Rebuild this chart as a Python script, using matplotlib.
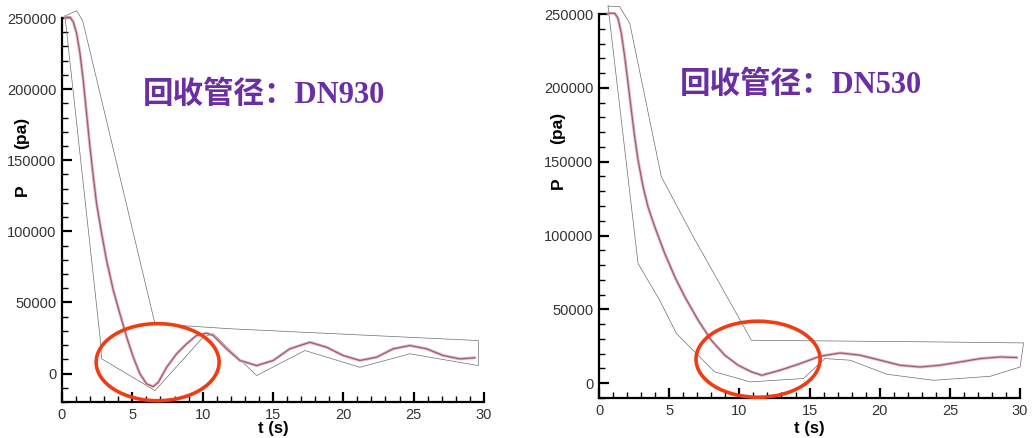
import matplotlib
matplotlib.use("Agg")
import matplotlib.pyplot as plt
from matplotlib.patches import Ellipse
from matplotlib.ticker import MultipleLocator

# DN930 main pressure curve
t_930 = [0.21, 0.57, 0.80, 1.04, 1.28, 1.51, 1.75, 1.99, 2.23, 2.46, 2.82, 3.17, 3.65, 4.12,
         4.6, 5.07, 5.54, 6.02, 6.49, 6.85, 7.44, 8.15, 8.86, 9.57, 10.28, 10.75, 11.7,
         12.65, 13.84, 15.02, 16.2, 17.63, 18.81, 19.99, 21.18, 22.37, 23.55, 24.73, 25.92,
         27.1, 28.29, 29.35]
p_930 = [250500, 250500, 247400, 239200, 225100, 206300, 182900, 159400, 138200, 119500,
         98400, 79600, 58500, 42000, 25600, 11500, -200, -7300, -9200, -6100, 4400, 13900,
         20900, 26800, 28400, 26800, 17400, 9200, 5600, 9200, 17400, 22000, 18500, 12700,
         9200, 11500, 17400, 19700, 17400, 12700, 10300, 11100]
# DN930 envelope (closed outline)
env_t_930 = [0.21, 1.04, 1.47, 6.61, 11.94, 29.6, 29.6, 24.73, 21.18, 17.27, 13.84, 10.75,
             10.04, 6.61, 2.82, 2.7, 0.21]
env_p_930 = [251400, 255100, 248100, 35000, 31500, 23200, 5600, 13900, 4400, 16200, -1400,
             28000, 25600, -12000, 10400, 26000, 251400]

# DN530 main pressure curve
t_530 = [0.64, 1.12, 1.35, 1.59, 1.83, 2.07, 2.30, 2.54, 2.78, 3.14, 3.49, 3.97, 4.68, 5.4,
         6.11, 7.06, 8.0, 8.96, 9.91, 10.86, 11.6, 12.9, 14.33, 15.75, 17.18, 18.6, 20.03,
         21.45, 22.88, 24.3, 25.73, 27.16, 28.58, 29.77]
p_530 = [250500, 250500, 247100, 236900, 221100, 203000, 185000, 166900, 151100, 133000,
         119400, 105900, 87900, 72000, 58500, 42700, 29100, 19000, 12200, 7700, 5400, 8800,
         13300, 18300, 20500, 19000, 15600, 12200, 11000, 12200, 14400, 16700, 17800, 17400]
# DN530 envelope (closed outline)
env_t_530 = [0.64, 1.47, 2.19, 4.44, 6.72, 10.86, 23.83, 30.25, 30.0, 27.87, 23.83, 20.5,
             17.89, 16.1, 14.56, 10.76, 10.38, 8.24, 5.51, 4.32, 2.78, 0.64]
env_p_530 = [255400, 255000, 243700, 139800, 99100, 29100, 28000, 27300, 11000, 4700, 2000,
             6100, 15600, 16700, 3200, 900, 2000, 7700, 33700, 56200, 81100, 255400]

titles = ["回收管径：DN930", "回收管径：DN530"]

fig = plt.figure(figsize=(10.33, 4.38), dpi=100)
ax1 = fig.add_axes([0.0600, 0.0822, 0.4085, 0.8767])
ax2 = fig.add_axes([0.5799, 0.0913, 0.4076, 0.8767])

W, H = 1033, 438
panels = [
    (ax1, t_930, p_930, env_t_930, env_p_930, -20000, (6.8, 8000, 8.74, 54200),
     (264, 95), (22, 190, 133), 273),
    (ax2, t_530, p_530, env_t_530, env_p_530, -10000, (11.33, 16260, 8.84, 51500),
     (801, 85), (558, 183, 128), 809),
]

for i, (ax, t, p, et, ep, ymin, ell, tpos, ylab, xlx) in enumerate(panels):
    ax.plot(et, ep, color="#6e6e6e", lw=0.5, clip_on=False)
    ax.plot(t, p, color="#e2bcc6", lw=2.2, solid_capstyle="round", clip_on=False)
    ax.plot(t, p, color="#a05a72", lw=0.9, clip_on=False)
    ax.set_xlim(0, 30)
    ax.set_ylim(ymin, 250000)
    for s in ["top", "right"]:
        ax.spines[s].set_visible(False)
    for s in ["left", "bottom"]:
        ax.spines[s].set_linewidth(1.6)
    ax.xaxis.set_major_locator(MultipleLocator(5))
    ax.xaxis.set_minor_locator(MultipleLocator(1))
    ax.yaxis.set_major_locator(MultipleLocator(50000))
    ax.yaxis.set_minor_locator(MultipleLocator(10000))
    ax.tick_params(which="major", direction="in", length=7, width=1.6,
                   labelsize=10.5, labelcolor="#333333", pad=4)
    ax.tick_params(which="minor", direction="in", length=4, width=1.0)
    for lab in ax.get_xticklabels() + ax.get_yticklabels():
        lab.set_family("Liberation Sans")
    # axis labels (the y label has a wide gap around the 150000 tick label)
    fig.text(xlx / W, 1 - 433 / H, "t (s)", fontsize=12, fontweight="bold",
             family="Liberation Sans", ha="center", va="baseline")
    fig.text(ylab[0] / W, 1 - ylab[1] / H, "P", fontsize=12.5, fontweight="bold",
             family="Liberation Sans", rotation=90, ha="center", va="center")
    fig.text(ylab[0] / W, 1 - ylab[2] / H, "(pa)", fontsize=12.5, fontweight="bold",
             family="Liberation Sans", rotation=90, ha="center", va="center")
    ax.add_patch(Ellipse((ell[0], ell[1]), ell[2], ell[3], fill=False,
                         edgecolor="#f03c14", lw=2.6, clip_on=False, zorder=5))
    fig.text(tpos[0] / W, 1 - tpos[1] / H, titles[i], color="#6a2fa3",
             fontsize=22, fontweight="bold", ha="center", va="center",
             family=["Liberation Serif", "Noto Sans CJK SC"])

fig.savefig("out.png", dpi=100)
